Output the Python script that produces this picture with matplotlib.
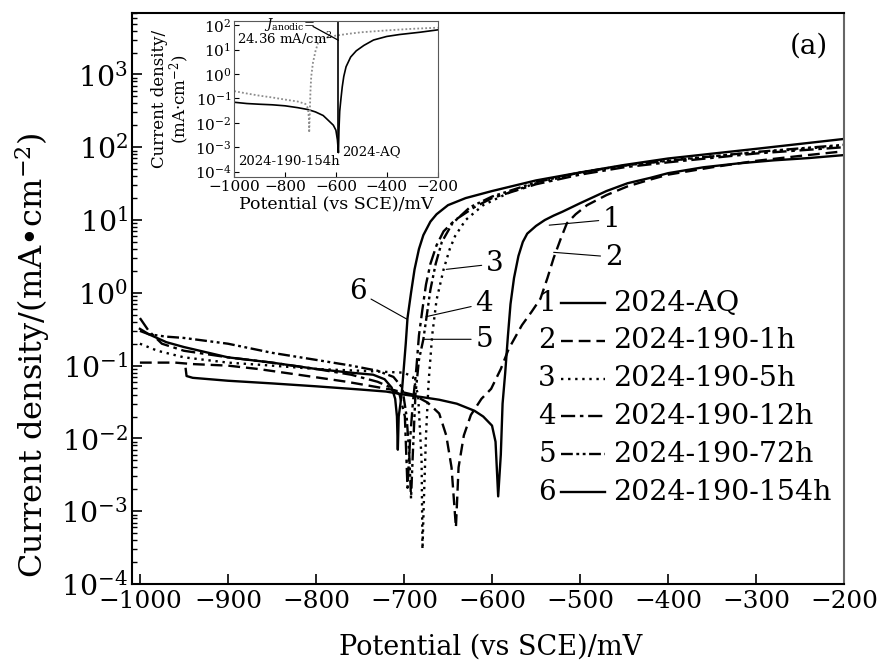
import matplotlib
matplotlib.use('Agg')
import matplotlib.pyplot as plt
from matplotlib.lines import Line2D

plt.rcParams['font.family'] = 'DejaVu Serif'
plt.rcParams['mathtext.fontset'] = 'dejavuserif'

# ---- main curves: potential (mV vs SCE) and current density (mA/cm2)
E1 = [-948, -947, -940, -900, -850, -800, -750, -720, -700, -680, -660, -640, -620, -610, -600, -596, -593,
      -590, -588, -585, -582, -579, -575, -570, -565, -560, -550, -540, -530, -520, -500, -470, -446, -420,
      -400, -360, -320, -280, -240, -200]
i1 = [0.09, 0.072, 0.068, 0.062, 0.057, 0.052, 0.047, 0.044, 0.040, 0.037, 0.034, 0.030, 0.024, 0.020, 0.015,
      0.009, 0.0016, 0.006, 0.03, 0.08, 0.25, 0.7, 1.6, 3.2, 5.0, 6.5, 8.3, 10, 11.5, 13, 17, 25, 32, 38, 44,
      53, 60, 66, 71, 78]

E2 = [-1000, -960, -940, -900, -866, -820, -765, -715, -690, -673, -660, -652, -646, -641, -638, -632, -624,
      -612, -601, -590, -581, -566, -555, -545, -537, -530, -522, -515, -505, -492, -470, -446, -420, -400,
      -350, -300, -250, -200]
i2 = [0.11, 0.11, 0.105, 0.1, 0.09, 0.075, 0.06, 0.047, 0.04, 0.031, 0.022, 0.011, 0.004, 0.0006, 0.004,
      0.011, 0.021, 0.035, 0.048, 0.09, 0.17, 0.36, 0.55, 0.83, 1.6, 3.0, 5.5, 9, 12, 16, 22, 29, 36, 42, 53,
      65, 76, 88]

E3 = [-1000, -980, -950, -900, -850, -800, -750, -720, -700, -690, -684, -680, -679, -677, -675, -672, -668,
      -663, -655, -648, -642, -630, -610, -580, -550, -500, -450, -400, -300, -200]
i3 = [0.2, 0.16, 0.13, 0.11, 0.1, 0.09, 0.085, 0.082, 0.08, 0.07, 0.04, 0.005, 0.0003, 0.002, 0.011, 0.06,
      0.26, 0.8, 2.1, 4.0, 6, 10, 16, 24, 32, 44, 56, 66, 85, 105]

E4 = [-1000, -990, -975, -950, -900, -850, -800, -760, -730, -715, -705, -699, -696, -693, -690, -686, -683,
      -679, -675, -670, -663, -655, -642, -620, -600, -550, -500, -450, -400, -300, -200]
i4 = [0.45, 0.3, 0.2, 0.16, 0.13, 0.11, 0.09, 0.075, 0.06, 0.05, 0.04, 0.02, 0.0021, 0.01, 0.03, 0.09, 0.26,
      0.6, 1.3, 2.5, 4.5, 7, 10, 15, 20, 31, 42, 53, 62, 82, 100]

E5 = [-1000, -990, -970, -950, -900, -850, -800, -760, -730, -712, -702, -697, -694, -692, -690, -687, -683,
      -678, -674, -670, -664, -657, -645, -625, -600, -550, -500, -450, -400, -300, -200]
i5 = [0.3, 0.27, 0.25, 0.24, 0.2, 0.15, 0.12, 0.1, 0.085, 0.07, 0.05, 0.02, 0.006, 0.0015, 0.006, 0.04, 0.12,
      0.23, 0.5, 1.1, 2.5, 5, 9, 15, 21, 33, 45, 56, 65, 86, 108]

E6 = [-1000, -990, -970, -950, -900, -850, -800, -760, -735, -722, -714, -710, -708, -707, -706, -704, -702,
      -700, -698, -696, -692, -688, -683, -678, -670, -663, -650, -630, -600, -550, -500, -450, -400, -300, -200]
i6 = [0.32, 0.27, 0.21, 0.18, 0.13, 0.11, 0.09, 0.08, 0.075, 0.065, 0.05, 0.035, 0.02, 0.007, 0.02, 0.03, 0.05,
      0.1, 0.2, 0.45, 1.0, 2.1, 4.0, 6.2, 9.5, 12, 16, 20, 25, 35, 45, 57, 70, 95, 130]

names = ['2024-AQ', '2024-190-1h', '2024-190-5h', '2024-190-12h', '2024-190-72h', '2024-190-154h']

# curve number labels: text position and the point on the curve
num_text = [(-464, 10.2), (-462, 3.1), (-597, 2.5), (-609, 0.71), (-609, 0.23), (-752, 1.03)]
num_point = [(-535, 8.5), (-530, 3.6), (-652, 2.1), (-675, 0.47), (-678, 0.23), (-696, 0.43)]

# ---- inset: AQ vs 154h
Ein_aq = [-1000, -950, -900, -850, -800, -750, -709, -680, -650, -631, -610, -600, -594, -590, -588, -585,
          -580, -575, -569, -560, -542, -520, -490, -452, -400, -350, -300, -270, -200]
iin_aq = [0.07, 0.062, 0.058, 0.055, 0.05, 0.042, 0.035, 0.028, 0.02, 0.013, 0.008, 0.005, 0.002, 0.0006,
          0.005, 0.03, 0.1, 0.3, 0.8, 2, 5, 9, 15, 25, 35, 42, 48, 52, 65]
Ein_154 = [-1000, -950, -900, -850, -800, -750, -720, -710, -706, -705, -703, -700, -697, -690, -680, -670,
           -660, -650, -631, -600, -550, -500, -400, -300, -200]
iin_154 = [0.2, 0.16, 0.13, 0.11, 0.09, 0.075, 0.06, 0.04, 0.015, 0.004, 0.02, 0.2, 0.8, 3, 9, 19, 25, 29,
           32, 38, 45, 52, 62, 72, 80]
ecorr_aq = -590
j_anodic = 24.36

styles = ['-', (0, (5, 2.5)), (0, (1, 2)), (0, (6, 2, 1.5, 2)), (0, (5, 1.5, 1.2, 1.5, 1.2, 1.5)), '-']
fs = 20

fig = plt.figure(figsize=(8.77, 6.68), dpi=100)
ax = fig.add_axes([0.1505, 0.1257, 0.812, 0.855])

series = [(E1, i1), (E2, i2), (E3, i3), (E4, i4), (E5, i5), (E6, i6)]
for (E, i), ls in zip(series, styles):
    ax.plot(E, i, color='k', ls=ls, lw=1.7)

ax.set_yscale('log')
ax.set_xlim(-1009, -200)
ax.set_ylim(1e-4, 7e3)
ax.set_xticks(range(-1000, -199, 100))
ax.tick_params(which='both', direction='in', top=False, right=False)
ax.tick_params(axis='x', labelsize=17.8, pad=4)
ax.tick_params(axis='y', labelsize=20.5, pad=3)
ax.tick_params(which='major', length=7, width=1.2)
ax.tick_params(which='minor', length=3.5, width=1)
for s in ax.spines.values():
    s.set_linewidth(1.5)
ax.spines['right'].set_color('0.4')
ax.set_xlabel('Potential (vs SCE)/mV', fontsize=19.5)
ax.set_ylabel('Current density/(mA\u2022cm$^{-2}$)', fontsize=23)
ax.xaxis.set_label_coords(0.503, -0.086)
ax.yaxis.set_label_coords(-0.113, 0.40)

for k in range(6):
    ax.annotate(str(k + 1), xy=num_point[k], xytext=num_text[k], fontsize=fs, ha='center', va='center',
                arrowprops=dict(arrowstyle='-', lw=0.8, color='k', shrinkA=1, shrinkB=0))

# legend drawn by hand: number, line sample, name
for k in range(6):
    y = 0.492 - k * 0.0662
    ax.text(0.583, y, str(k + 1), transform=ax.transAxes, ha='center', va='center', fontsize=fs)
    ax.add_line(Line2D([0.603, 0.664], [y, y], transform=ax.transAxes, color='k', ls=styles[k], lw=1.7))
    ax.text(0.676, y, names[k], transform=ax.transAxes, ha='left', va='center', fontsize=20.5)

ax.text(0.951, 0.942, '(a)', transform=ax.transAxes, ha='center', va='center', fontsize=fs)

# inset
axi = fig.add_axes([0.267, 0.735, 0.232, 0.2335])
axi.plot(Ein_aq, iin_aq, color='k', lw=1.2)
axi.plot(Ein_154, iin_154, color='0.55', ls=(0, (1, 1.2)), lw=1.3)
axi.set_yscale('log')
axi.set_xlim(-1000, -200)
axi.set_ylim(6e-5, 150)
axi.vlines(ecorr_aq, min(iin_aq), 150, color='k', lw=1.2)
axi.set_xticks([-1000, -800, -600, -400, -200])
axi.set_yticks([1e-4, 1e-3, 1e-2, 1e-1, 1e0, 1e1, 1e2])
axi.tick_params(which='both', direction='in', top=False, right=False, labelsize=11, pad=2)
axi.tick_params(which='major', length=3.5)
axi.tick_params(which='minor', length=0)
for s in axi.spines.values():
    s.set_color('0.35')
axi.set_xlabel('Potential (vs SCE)/mV', fontsize=12.5, labelpad=1)
axi.set_ylabel('Current density/\n(mA\u00b7cm$^{-2}$)', fontsize=12, labelpad=2, linespacing=1.0)
axi.annotate('', xy=(ecorr_aq, j_anodic), xytext=(-690, 90),
             arrowprops=dict(arrowstyle='-', lw=0.9, color='k', shrinkA=0, shrinkB=0))
axi.text(-884, 108, r'$J_{\rm anodic}$=', fontsize=9.5, ha='left', va='center')
axi.text(-988, 28, '%.2f mA/cm$^{2}$' % j_anodic, fontsize=9.5, ha='left', va='center')
axi.text(-985, 2.6e-4, '2024-190-154h', fontsize=9.5, ha='left', va='center')
axi.text(-575, 6.5e-4, '2024-AQ', fontsize=9.5, ha='left', va='center')

fig.savefig('out.png', dpi=100)
